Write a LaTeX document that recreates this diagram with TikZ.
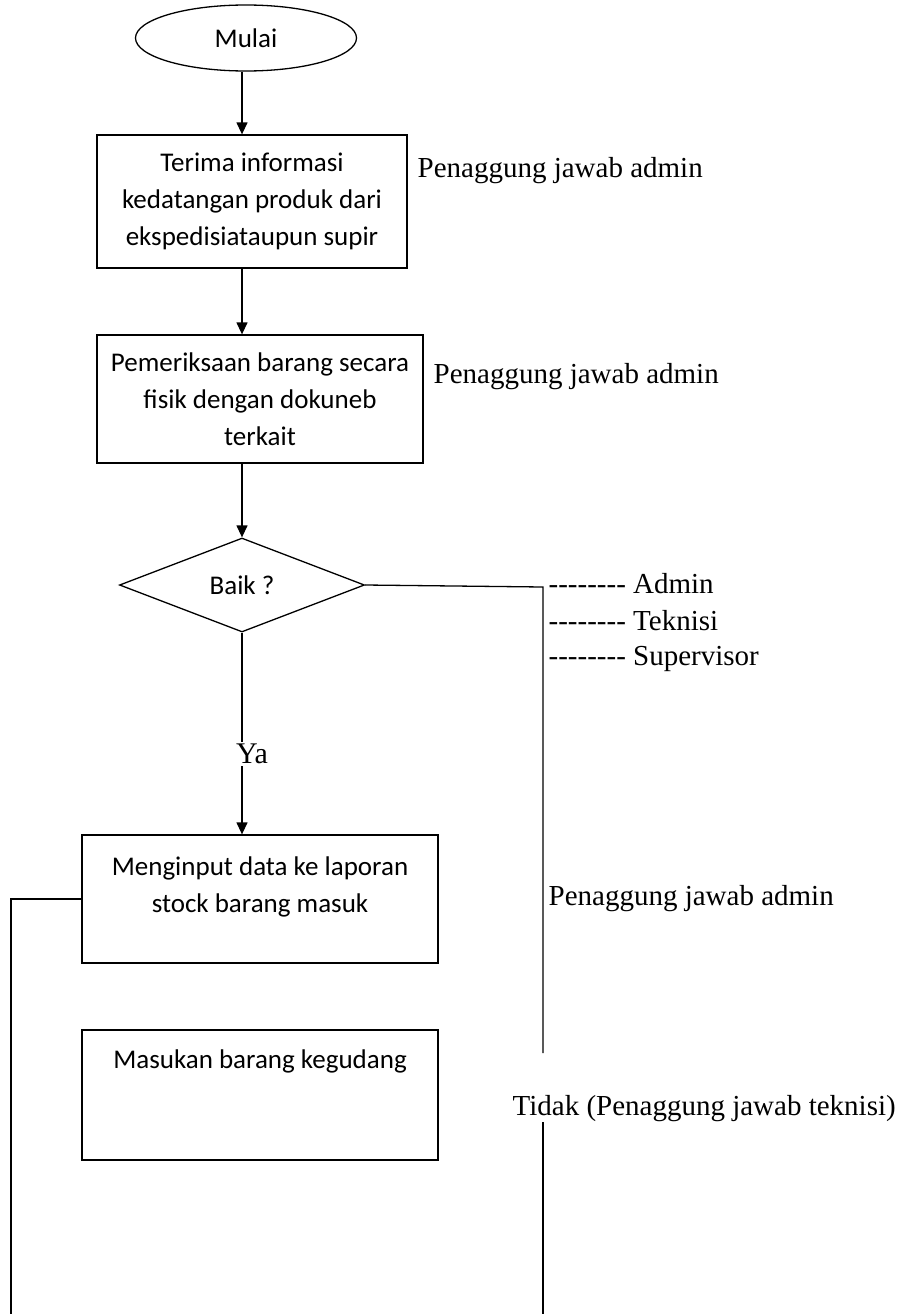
\documentclass[tikz,border=0pt]{standalone}
\usepackage{fontspec}
\setmainfont{Carlito}
\newfontfamily\serifnote{Liberation Serif}
\usepackage{tikz}
\usetikzlibrary{shapes.geometric,arrows.meta,positioning}
\newcommand\dashrow{\mbox{-}\mbox{-}\mbox{-}\mbox{-}\mbox{-}\mbox{-}\mbox{-}\mbox{-}}

\begin{document}
\begin{tikzpicture}[x=1pt,y=1pt,->,>={Triangle[length=12pt,width=11pt]},line width=1.3pt,
  font=\fontsize{27}{37}\selectfont]
\tikzstyle{proc}=[draw,rectangle,align=center,inner sep=4pt]
\tikzstyle{note}=[font=\serifnote\fontsize{29}{34}\selectfont,anchor=base west,inner sep=0pt]
\useasboundingbox (0,0) rectangle (915,-1314);
\node[draw,ellipse,minimum width=221pt,minimum height=66pt,inner sep=0pt](mulai) at (246,-38){Mulai};
\node[proc,minimum width=310pt,minimum height=133pt](terima) at (252,-201.5){Terima informasi\\kedatangan produk dari\\ekspedisiataupun supir};
\node[proc,minimum width=326pt,minimum height=128pt](periksa) at (260,-399){Pemeriksaan barang secara\\fisik dengan dokuneb\\terkait};
\node[draw,diamond,minimum width=245pt,minimum height=94pt,inner sep=0pt](baik) at (242,-585){Baik ?};
\node[proc,minimum width=356pt,minimum height=128pt](input) at (260,-899){Menginput data ke laporan\\stock barang masuk\\[-8pt]\mbox{}};
\node[proc,minimum width=356pt,minimum height=130pt](gudang) at (260,-1095){Masukan barang kegudang\\[34pt]\mbox{}};
\node[note](adm1) at (417,-177){Penaggung jawab admin};
\node[note](adm2) at (433,-383){Penaggung jawab admin};
\node[note](admin) at (548,-593){\dashrow\ Admin};
\node[note](teknisi) at (548,-630){\dashrow\ Teknisi};
\node[note](supervisor) at (548,-665){\dashrow\ Supervisor};
\node[note](adm3) at (548,-905){Penaggung jawab admin};
\node[note](tidak) at (512,-1115){Tidak (Penaggung jawab teknisi)};
\coordinate (rtop) at (543,-587);
\coordinate (rgap1) at (543,-1053);
\coordinate (rgap2) at (543,-1122);
\coordinate (rbot) at (543,-1314);
\coordinate (lbot) at (11,-1314);
\path (baik.north |- mulai.south) edge (baik.north |- terima.north)
      (baik.north |- terima.south) edge (baik.north |- periksa.north)
      (baik.north |- periksa.south) edge (baik.north);
\draw (baik.south) -- node[pos=0.6,fill=white,inner sep=2pt,xshift=10pt,font=\serifnote\fontsize{30}{34}\selectfont]{Ya} (baik.south |- input.north);
\draw[-] (baik.east) -- (rtop) -- (rgap1);
\draw[-] (rgap2) -- (rbot);
\draw[-] (input.west) -- (input.west -| lbot) -- (lbot);
\end{tikzpicture}
\end{document}
